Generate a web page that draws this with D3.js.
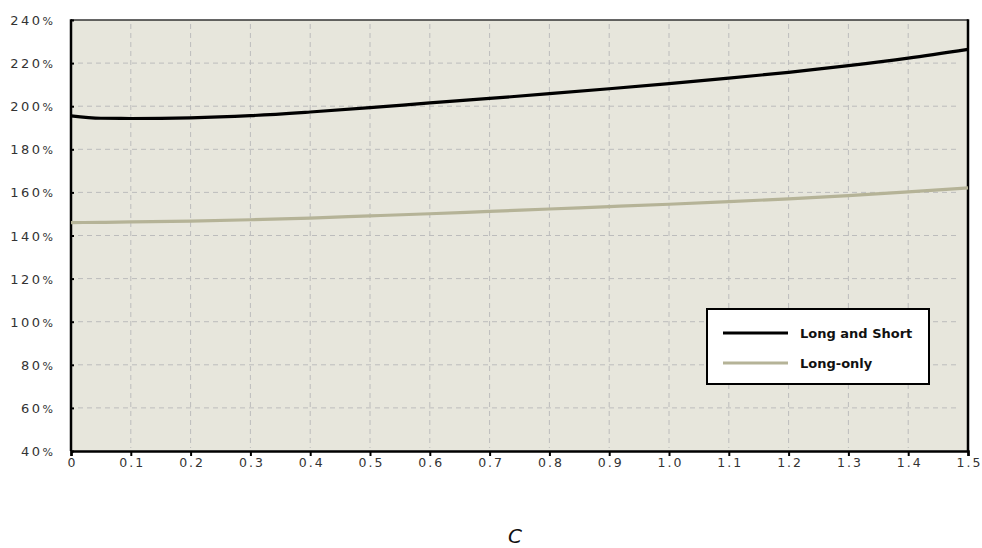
<!DOCTYPE html>
<html><head><meta charset="utf-8">
<script src="https://cdn.jsdelivr.net/npm/d3@7/dist/d3.min.js"></script>
<style>body{margin:0;background:#fff;}svg{display:block;}</style>
</head><body>
<svg id="chart" width="982" height="548"></svg>
<script>
const xValues = [0,0.05,0.1,0.2,0.3,0.4,0.5,0.6,0.7,0.8,0.9,1.0,1.1,1.2,1.3,1.4,1.5];
const longShort = [195.5,194.4,194.3,194.6,195.6,197.3,199.3,201.5,203.6,205.8,208.1,210.5,213.0,215.7,218.8,222.3,226.4];
const longOnly  = [146.0,146.1,146.3,146.7,147.3,148.1,149.1,150.1,151.2,152.3,153.4,154.5,155.7,157.0,158.5,160.2,162.1];
const xTicks = [0,0.1,0.2,0.3,0.4,0.5,0.6,0.7,0.8,0.9,1.0,1.1,1.2,1.3,1.4,1.5];
const xTickLabels = ["0","0.1","0.2","0.3","0.4","0.5","0.6","0.7","0.8","0.9","1.0","1.1","1.2","1.3","1.4","1.5"];
const yTicks = [40,60,80,100,120,140,160,180,200,220,240];
const seriesNames = ["Long and Short","Long-only"];
const seriesColors = ["#000000","#b5b397"];
const xTitle = "C";

const svg = d3.select("#chart");
const L = 71, R = 968, T = 20, B = 451;
const x = d3.scaleLinear().domain([0,1.5]).range([L,R]);
const y = d3.scaleLinear().domain([40,240]).range([B,T]);

svg.append("rect").attr("x",L).attr("y",T).attr("width",R-L).attr("height",B-T).attr("fill","#e7e6dc");

// grid
const g = svg.append("g");
g.selectAll("line.v").data(xTicks.slice(1,-1)).enter().append("line")
  .attr("x1",d=>x(d)).attr("x2",d=>x(d)).attr("y1",T+4).attr("y2",B-3)
  .attr("stroke","#bcbcbc").attr("stroke-width",1).attr("stroke-dasharray","5,4");
g.selectAll("line.h").data(yTicks.slice(1,-1)).enter().append("line")
  .attr("y1",d=>y(d)).attr("y2",d=>y(d)).attr("x1",L+7).attr("x2",R-10)
  .attr("stroke","#bcbcbc").attr("stroke-width",1).attr("stroke-dasharray","5,4");

// border
svg.append("line").attr("x1",L).attr("x2",R).attr("y1",T).attr("y2",T).attr("stroke","#333").attr("stroke-width",1.5);
svg.append("line").attr("x1",L).attr("x2",L).attr("y1",T-0.75).attr("y2",B).attr("stroke","#000").attr("stroke-width",2.5);
svg.append("line").attr("x1",R).attr("x2",R).attr("y1",T-0.75).attr("y2",B).attr("stroke","#000").attr("stroke-width",2.5);

// x axis
const xAxis = d3.axisBottom(x).tickValues(xTicks).tickSize(5).tickFormat((d,i)=>xTickLabels[i]);
const xa = svg.append("g").attr("transform",`translate(0,${B})`).call(xAxis);
xa.select(".domain").attr("stroke","#000").attr("stroke-width",2.5);
xa.selectAll(".tick line").attr("stroke","#000").attr("stroke-width",2);
xa.selectAll(".tick text").attr("dy",null).attr("y",16).attr("font-family","DejaVu Sans, sans-serif")
  .attr("font-size",12.5).attr("letter-spacing","2px").attr("fill","#333").attr("dx","1px");

// y axis (ticks inward)
const yAxis = d3.axisLeft(y).tickValues(yTicks).tickSize(-3).tickFormat(d=>d);
const ya = svg.append("g").attr("transform",`translate(${L},0)`).call(yAxis);
ya.select(".domain").remove();
ya.selectAll(".tick line").attr("stroke","#000").attr("stroke-width",2);
ya.selectAll(".tick text").each(function(d){
  const t = d3.select(this);
  t.text(null).attr("x",-18).attr("dy","0.35em").attr("font-family","DejaVu Sans, sans-serif")
   .attr("font-size",13).attr("letter-spacing","2.5px").attr("fill","#333").attr("text-anchor","end");
  t.append("tspan").text(d);
  t.append("tspan").attr("font-size",11).attr("letter-spacing","0px").text("%");
});

// lines
const line = d3.line().x((d,i)=>x(xValues[i])).y(d=>y(d)).curve(d3.curveMonotoneX);
[longShort,longOnly].forEach((s,k)=>{
  svg.append("path").datum(s).attr("d",line).attr("fill","none")
    .attr("stroke",seriesColors[k]).attr("stroke-width",3.2).attr("stroke-linejoin","round");
});

// legend
const lg = svg.append("g");
lg.append("rect").attr("x",707).attr("y",309).attr("width",222).attr("height",75)
  .attr("fill","#fff").attr("stroke","#000").attr("stroke-width",2);
seriesNames.forEach((n,k)=>{
  const yy = 333 + k*30;
  lg.append("line").attr("x1",723).attr("x2",788).attr("y1",yy).attr("y2",yy)
    .attr("stroke",seriesColors[k]).attr("stroke-width",3);
  lg.append("text").attr("x",800).attr("y",yy).attr("dy","0.35em")
    .attr("font-family","DejaVu Sans, sans-serif").attr("font-weight","bold").attr("font-size",13)
    .attr("fill","#111").text(n);
});

// x title
svg.append("text").attr("x",515).attr("y",543).attr("text-anchor","middle")
  .attr("font-family","DejaVu Sans, sans-serif").attr("font-style","italic").attr("font-size",20)
  .attr("font-weight","300").attr("fill","#111").text(xTitle);
</script>
</body></html>
